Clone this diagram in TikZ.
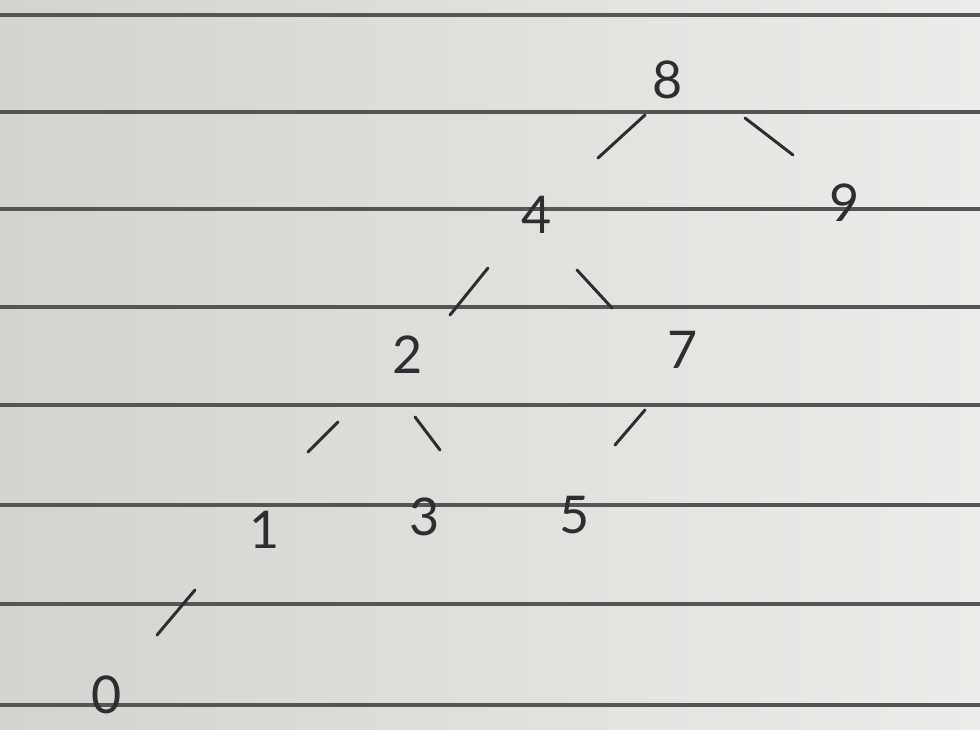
\documentclass[tikz,border=0pt]{standalone}
\usepackage{fontspec}
\setmainfont{Lato}
\usetikzlibrary{calc}
\definecolor{paperL}{RGB}{212,211,207}
\definecolor{paperR}{RGB}{236,236,234}
\definecolor{rule}{RGB}{85,85,85}
\definecolor{ink}{RGB}{45,45,50}
\tikzset{
  digit/.style={text=ink, font=\fontsize{52}{62}\selectfont, inner sep=0pt},
  stroke/.style={draw=ink, line width=3pt, line cap=round},
  ruleline/.style={draw=rule, line width=3.4pt}
}
\begin{document}
\begin{tikzpicture}[x=1pt,y=-1pt]
\useasboundingbox (0,0) rectangle (980,730);
\shade[left color=paperL, right color=paperR] (0,0) rectangle (980,730);
\foreach \yy in {15,112,209,307,405,505,604,705}
  \draw[ruleline] (0,\yy) -- (980,\yy);
% nodes
\node[digit] (n8) at (668,80) {8};
\node[digit] (n9) at (845,203) {9};
\node[digit] (n4) at (537,215) {4};
\node[digit] (n2) at (408,355) {2};
\node[digit] (n7) at (683,350) {7};
\node[digit] (n1) at (265,530) {1};
\node[digit] (n3) at (425,517) {3};
\node[digit] (n5) at (575,515) {5};
\node[digit] (n0) at (107,695) {0};
% connectors
\draw[stroke] ($(n8.center)+(-23,35)$) -- ($(n4.center)+(61,-57)$);
\draw[stroke] ($(n8.center)+(77,38)$) -- ($(n9.center)+(-52,-48)$);
\draw[stroke] ($(n4.center)+(-49,53)$) -- ($(n2.center)+(42,-40)$);
\draw[stroke] ($(n4.center)+(40,55)$) -- ($(n7.center)+(-71,-42)$);
\draw[stroke] ($(n2.center)+(-70,67)$) -- ($(n1.center)+(43,-78)$);
\draw[stroke] ($(n2.center)+(7,62)$) -- ($(n3.center)+(15,-67)$);
\draw[stroke] ($(n7.center)+(-38,60)$) -- ($(n5.center)+(40,-70)$);
\draw[stroke] ($(n1.center)+(-70,60)$) -- ($(n0.center)+(50,-60)$);
\end{tikzpicture}
\end{document}
